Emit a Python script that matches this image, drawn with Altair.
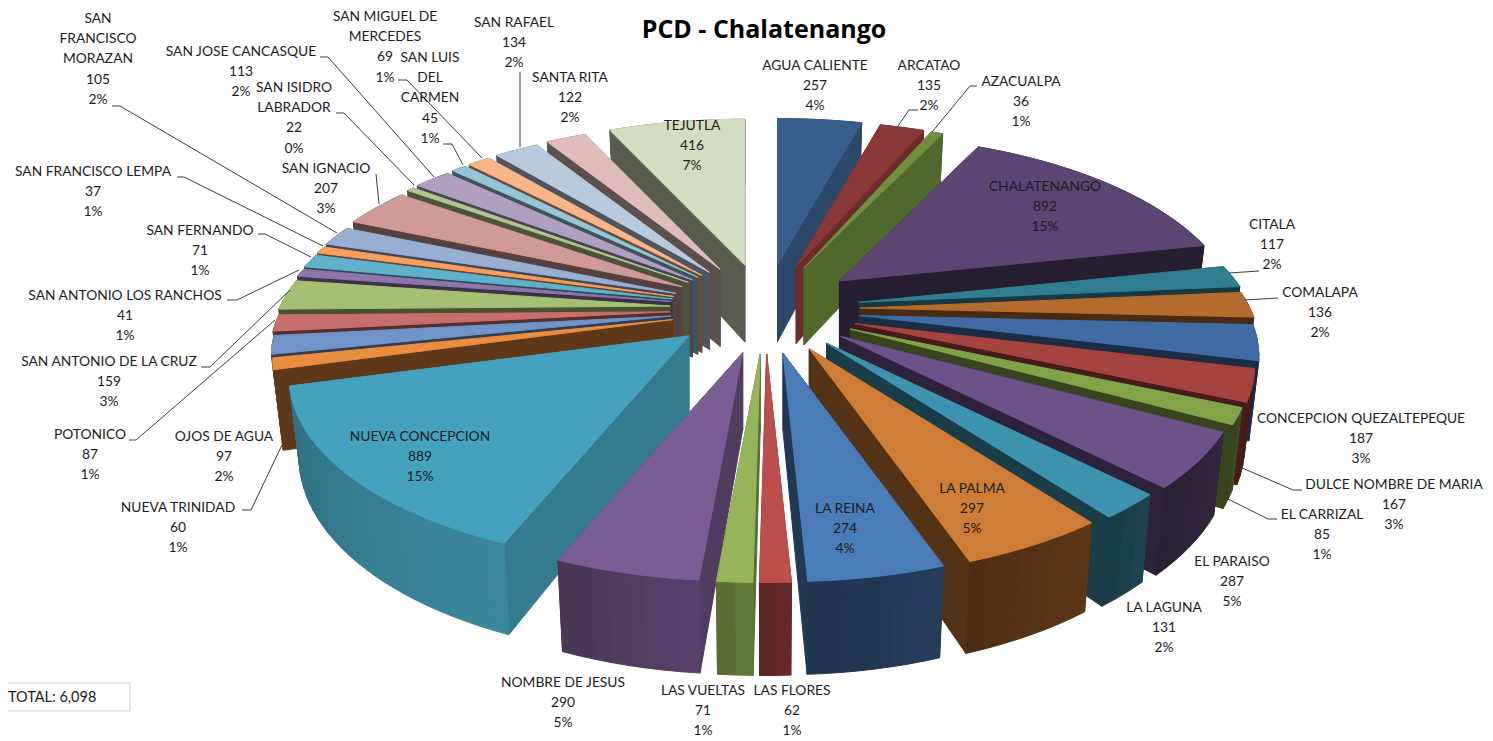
import math
import altair as alt

# ---- data ----
NAMES = ["AGUA CALIENTE","ARCATAO","AZACUALPA","CHALATENANGO","CITALA","COMALAPA",
 "CONCEPCION QUEZALTEPEQUE","DULCE NOMBRE DE MARIA","EL CARRIZAL","EL PARAISO","LA LAGUNA",
 "LA PALMA","LA REINA","LAS FLORES","LAS VUELTAS","NOMBRE DE JESUS","NUEVA CONCEPCION",
 "NUEVA TRINIDAD","OJOS DE AGUA","POTONICO","SAN ANTONIO DE LA CRUZ","SAN ANTONIO LOS RANCHOS",
 "SAN FERNANDO","SAN FRANCISCO LEMPA","SAN\nFRANCISCO\nMORAZAN","SAN IGNACIO","SAN ISIDRO\nLABRADOR",
 "SAN JOSE CANCASQUE","SAN LUIS\nDEL\nCARMEN","SAN MIGUEL DE\nMERCEDES","SAN RAFAEL","SANTA RITA","TEJUTLA"]
VALUES = [257,135,36,892,117,136,187,167,85,287,131,297,274,62,71,290,889,60,97,87,159,41,71,37,105,207,22,113,45,69,134,122,416]

# ---- styles ----
TOPS = ["#385F8C","#8A3835","#71903F","#5B4573","#317D92","#B46C2E","#416CA3","#A54340","#83A348",
 "#6C5288","#3D93AD","#CF7D36","#4A7CB8","#BC4F4C","#95B558","#7B5D95","#45A2BC","#EB8D3E","#7094C7",
 "#C76F6C","#A6C073","#8D76AB","#5FB1CC","#F79F5E","#98AED3","#D09A98","#B2C68F","#AFA0C1","#95C5D6",
 "#F9B58A","#B9CADF","#E1BCBD","#D3DDBF"]
WALL = [.76,.78,.72,.42,.45,.40,.42,.42,.42,.42,.42,.40,.45,.48,.60,.64,.76,.40,.42,.42,.42,.42,.42,
        .42,.42,.42,.42,.42,.42,.42,.42,.42,.42]

# ---- pie projection parameters ----
CX, CY = 765, 309
EX, EY = 95, 45
A, B, K = 390, 178, .221
SX, SY, H = .975, 1.07, 77
OFF = 8
NUDGE = {16: (-5, -3)}  # Nueva Concepcion is pulled a little further out

# ---- label layout (image pixels, centre x / first-line centre y) ----
LX = [815,929,1021,1045,1272,1320,1361,1394,1322,1232,1164,972,845,792,703,563,420,178,224,90,109,125,200,93,98,326,294,241,430,385,514,570,692]
LY = [66,66,82,187,225,293,419,485,515,562,608,489,509,691,691,683,437,508,437,435,362,296,231,172,19,169,88,52,58,17,23,78,126]
LEADERS = [
 [(898,126),(909,110),(918,110)],[(932,132),(970,86),(977,86)],[(1229,273),(1259,271)],
 [(1245,300),(1278,298)],[(1240,467),(1293,490),(1302,490)],[(1226,498),(1268,519),(1277,519)],
 [(282,445),(251,510),(242,510)],[(275,320),(136,440),(129,440)],[(290,290),(210,367),(201,367)],
 [(299,270),(237,300),(227,300)],[(311,257),(265,234),(258,234)],[(323,246),(184,177),(177,177)],
 [(337,233),(120,106),(112,106)],[(379,204),(376,174)],[(414,185),(344,113),(336,113)],
 [(434,177),(328,57),(320,57)],[(463,165),(452,144),(443,144)],[(482,158),(407,80),(398,80)],
 [(520,147),(520,72)]]

TOTAL = sum(VALUES)


def shade(hexcol, f):
    r, g, b = [int(hexcol[i:i + 2], 16) for i in (1, 3, 5)]
    return "#%02x%02x%02x" % tuple(max(0, min(255, round(c * f))) for c in (r, g, b))


def rim(t):
    u, v = math.sin(t), math.cos(t)
    den = 1 + K * v
    return A * u / den, -B * v / den


def poly(points, col):
    ring = [[x - OFF, y - OFF] for x, y in points]
    ring.append(ring[0])
    return {"type": "Feature", "geometry": {"type": "Polygon", "coordinates": [ring]},
            "properties": {"fill": col}}


slices = []
cum = 0
for i, v in enumerate(VALUES):
    t0 = cum / TOTAL * 2 * math.pi
    cum += v
    t1 = cum / TOTAL * 2 * math.pi
    slices.append((i, t0, t1, (t0 + t1) / 2))

features = []
for i, t0, t1, mid in sorted(slices, key=lambda s: -math.cos(s[3])):
    nx, ny = NUDGE.get(i, (0, 0))
    ax, ay = CX + EX * math.sin(mid) + nx, CY - EY * math.cos(mid) + ny
    steps = max(2, int((t1 - t0) / math.radians(2)))
    ts = [t0 + (t1 - t0) * k / steps for k in range(steps + 1)]
    top = [(ax + rim(t)[0], ay + rim(t)[1]) for t in ts]
    bot = [(ax + SX * rim(t)[0], ay + SY * rim(t)[1] + H) for t in ts]
    wall = shade(TOPS[i], WALL[i])
    radial = [poly([(ax, ay), top[0], bot[0], (ax, ay + H)], wall),
              poly([(ax, ay), top[-1], bot[-1], (ax, ay + H)], wall)]
    outer = []
    for k in range(steps):
        f = 1.1 - .2 * (k / steps)
        outer.append(poly([top[k], top[k + 1], bot[k + 1], bot[k]], shade(TOPS[i], WALL[i] * f)))
    features += (outer + radial) if math.cos(mid) > 0 else (radial + outer)
    features.append(poly([(ax, ay)] + top, TOPS[i]))

pie = alt.Chart(alt.Data(values=features)).mark_geoshape(strokeWidth=1).encode(
    fill=alt.Fill("properties.fill:N", scale=None),
    stroke=alt.Stroke("properties.fill:N", scale=None),
).project(type="identity", scale=1, translate=[0, 0])

leader_rows = []
for n, line in enumerate(LEADERS):
    for o, (x, y) in enumerate(line):
        leader_rows.append({"n": n, "o": o, "x": x - OFF, "y": y - OFF})
leaders = alt.Chart(alt.Data(values=leader_rows)).mark_line(color="#3c3c3c", strokeWidth=1).encode(
    x=alt.X("x:Q", scale=None), y=alt.Y("y:Q", scale=None), detail="n:N", order="o:Q")

label_rows = []
for name, v, x, y in zip(NAMES, VALUES, LX, LY):
    pct = round(v / TOTAL * 100)
    label_rows.append({"t": f"{name}\n{v}\n{pct}%", "x": x - OFF, "y": y - OFF - 7})
labels = alt.Chart(alt.Data(values=label_rows)).mark_text(
    font="Lato", fontSize=13.8, lineBreak="\n", lineHeight=20.2, align="center", baseline="top", color="#1c1c1c"
).encode(x=alt.X("x:Q", scale=None), y=alt.Y("y:Q", scale=None), text="t:N")

title = alt.Chart(alt.Data(values=[{"t": "PCD - Chalatenango", "x": 764 - OFF, "y": 30 - OFF}])).mark_text(
    font="Open Sans", fontSize=25, fontWeight="bold", color="#000000", align="center", baseline="middle"
).encode(x=alt.X("x:Q", scale=None), y=alt.Y("y:Q", scale=None), text="t:N")

box = alt.Chart(alt.Data(values=[{"x": -4, "x2": 130 - OFF, "y": 683 - OFF, "y2": 711 - OFF}])).mark_rect(
    fill="white", stroke="#cfcfcf", strokeWidth=1
).encode(x=alt.X("x:Q", scale=None), x2="x2:Q", y=alt.Y("y:Q", scale=None), y2="y2:Q")

total_text = alt.Chart(alt.Data(values=[{"t": f"TOTAL: {TOTAL:,}", "x": 0, "y": 698 - OFF}])).mark_text(
    font="Lato", fontSize=14.5, color="#1c1c1c", align="left", baseline="middle"
).encode(x=alt.X("x:Q", scale=None), y=alt.Y("y:Q", scale=None), text="t:N")

chart = alt.layer(pie, leaders, labels, title, box, total_text).properties(
    width=1477, height=733, padding=0, autosize=alt.AutoSizeParams(type="none")
).configure_view(stroke=None)

chart.save("out.html", embed_options={"renderer": "svg", "actions": False})
